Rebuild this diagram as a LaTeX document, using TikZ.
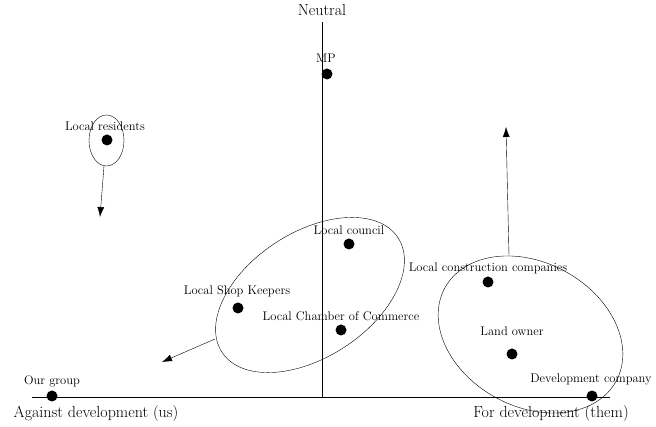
\documentclass[tikz,border=0pt]{standalone}
\usetikzlibrary{arrows.meta,shapes.geometric}

\tikzset{
    dot/.style={circle, fill=black, inner sep=0pt, minimum size=11pt},
    lbl/.style={inner sep=0pt, font=\fontsize{12.5}{14}\selectfont},
    axislbl/.style={inner sep=0pt, font=\fontsize{16}{18}\selectfont},
    group/.style={ellipse, draw, thin, inner sep=0pt},
    move/.style={thin, -{Latex[length=10pt,width=7pt]}}
}

\begin{document}
\begin{tikzpicture}[x=1pt, y=1pt]
    \useasboundingbox (0,0) rectangle (656,427);

    % axes
    \coordinate (west) at (32,30);
    \coordinate (east) at (610,30);
    \coordinate (south) at (322,30);
    \coordinate (north) at (322,405);
    \draw (west) -- (east);
    \draw (south) -- (north);
    \node[axislbl] (neutral) at (322,417) {Neutral};
    \node[axislbl] (against) at (96,13) {Against development (us)};
    \node[axislbl] (for) at (551,13) {For development (them)};

    % stakeholders
    \node[dot] (mp) at (327,353) {};
    \node[lbl] at (326,369) {MP};
    \node[dot] (residents) at (107,287) {};
    \node[lbl] at (105,301) {Local residents};
    \node[dot] (council) at (349,183) {};
    \node[lbl] at (349,197) {Local council};
    \node[dot] (shops) at (238,119) {};
    \node[lbl] at (237,136) {Local Shop Keepers};
    \node[dot] (chamber) at (341,97) {};
    \node[lbl] at (341,111) {Local Chamber of Commerce};
    \node[dot] (builders) at (488,145) {};
    \node[lbl] at (488,159) {Local construction companies};
    \node[dot] (landowner) at (512,73) {};
    \node[lbl] at (512,96) {Land owner};
    \node[dot] (developer) at (592,31) {};
    \node[lbl] at (591,48) {Development company};
    \node[dot] (us) at (52,31) {};
    \node[lbl] at (52,46) {Our group};

    % groupings
    \node[group, minimum width=35pt, minimum height=51pt] (resgroup) at (106.5,286.5) {};
    \node[group, minimum width=210pt, minimum height=125pt, rotate=33] (localgroup) at (310,132) {};
    \node[group, minimum width=195pt, minimum height=144pt, rotate=-28.5] (devgroup) at (530.5,92.5) {};

    % movements
    \coordinate (resstart) at (104,261);
    \coordinate (resend) at (100,210);
    \coordinate (localstart) at (215,88);
    \coordinate (localend) at (162,65);
    \coordinate (devstart) at (509,171);
    \coordinate (devend) at (506,300);
    \draw[move] (resstart) -- (resend);
    \draw[move] (localstart) -- (localend);
    \draw[move] (devstart) -- (devend);
\end{tikzpicture}
\end{document}
